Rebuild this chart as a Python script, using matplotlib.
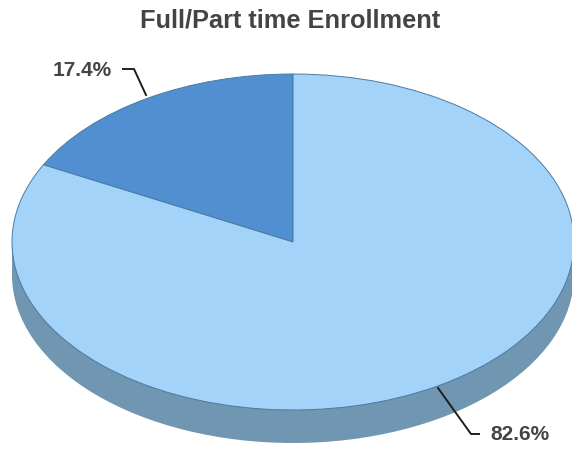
import matplotlib
matplotlib.use('Agg')
import matplotlib.pyplot as plt
from matplotlib.patches import Rectangle

# Values
values = [17.4, 82.6]
pct_labels = ['17.4%', '82.6%']
title = 'Full/Part time Enrollment'

W, H = 572, 449
plt.rcParams['font.family'] = ['Liberation Sans', 'DejaVu Sans']

fig = plt.figure(figsize=(W / 100, H / 100), dpi=100)

# Ellipse of the top face, in pixels
cx, cy = 293, 242
rx, ry = 281, 168
depth = 33

# Axes covering the whole picture, unit circle squashed by the limits
ax = fig.add_axes([0, 0, 1, 1])

# Side of the pie, same scale as top face
side = '#7096B1'
ax.pie([1], radius=1, center=(0, -depth / ry), colors=[side], startangle=90,
       wedgeprops=dict(edgecolor='none'), frame=True)
ax.add_patch(Rectangle((-1, -depth / ry), 2, depth / ry, facecolor=side, edgecolor='none'))

# Top face
ax.pie(values, radius=1, center=(0, 0), colors=['#518FD0', '#A3D3F8'], startangle=90,
       wedgeprops=dict(edgecolor='#4A7AA3', linewidth=0.7), frame=True)

ax.set_aspect('auto')
ax.set_xlim(-cx / rx, (W - cx) / rx)
ax.set_ylim((cy - H) / ry, cy / ry)
ax.axis('off')


def to_ax(px, py):
    return (px - cx) / rx, (cy - py) / ry


# Leader lines
for xs, ys in [([123, 134, 146], [69, 69, 95]), ([438, 471, 479], [388, 434, 434])]:
    pts = [to_ax(x, y) for x, y in zip(xs, ys)]
    ax.plot([p[0] for p in pts], [p[1] for p in pts], color='#1f1f1f', lw=1.4, zorder=5)

lab1 = to_ax(82, 70)
lab2 = to_ax(520, 434)
ax.text(lab1[0], lab1[1], pct_labels[0], ha='center', va='center', fontsize=15,
        fontweight='bold', color='#444444')
ax.text(lab2[0], lab2[1], pct_labels[1], ha='center', va='center', fontsize=15,
        fontweight='bold', color='#444444')

fig.text(290 / W, 1 - 21 / H, title, ha='center', va='center', fontsize=18.3,
         fontweight='bold', color='#444444')

fig.savefig('out.png', dpi=100)
